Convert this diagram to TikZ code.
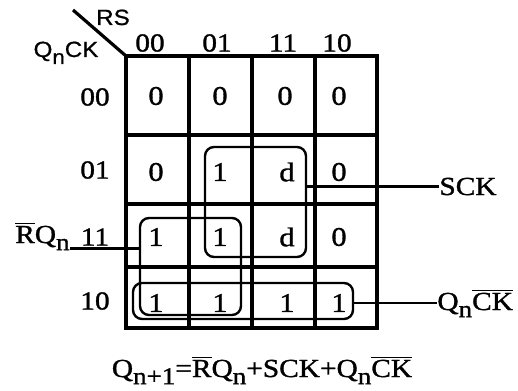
\documentclass[tikz,border=0pt]{standalone}
\usepackage{fontspec}
\setmainfont{Liberation Serif}[FakeStretch=1.13, FakeBold=1.2]
\setsansfont{Liberation Sans}[FakeStretch=1.1, FakeBold=0.8]
\usetikzlibrary{fit}

\newcommand\lsub[1]{\raisebox{-0.6ex}{\scalebox{0.92}{#1}}}
\newcommand\lbar[1]{$\overline{\mbox{#1}}$}

\begin{document}
\begin{tikzpicture}[
  x=0.5pt, y=-0.5pt,
  gridline/.style={line width=1.6pt},
  cell/.style={font=\fontsize{13.5}{15}\selectfont, inner sep=0pt},
  head/.style={font=\fontsize{13}{15}\selectfont, inner sep=0pt},
  sans/.style={font=\sffamily\fontsize{11}{13}\selectfont, inner sep=0pt},
  group/.style={draw, line width=1.2pt, rounded corners=4.5pt, inner sep=0pt},
  tag/.style={font=\fontsize{13}{15}\selectfont, inner sep=0pt},
  wire/.style={line width=1.2pt}
]
  \useasboundingbox (0,0) rectangle (518,390);

  % Map grid
  \draw[gridline] (126,56) rectangle (377,328);
  \foreach \gx in {189,252,315}
    \draw[gridline] (\gx,56) -- (\gx,328);
  \foreach \gy in {135,204,267}
    \draw[gridline] (126,\gy) -- (377,\gy);
  \draw[gridline] (73,10) -- (126,56);

  % Variable names in the corner
  \node[sans, anchor=base] (rs) at (113,25) {RS};
  \node[sans, anchor=base] (qnck) at (66,57) {Q\lsub{n}CK};

  % Column and row headings
  \foreach \lab/\cx in {00/150,01/217,11/283,10/337}
    \node[head] (col-\lab) at (\cx,43) {\lab};
  \foreach \lab/\ry in {00/97,01/170,11/237,10/301}
    \node[head] (row-\lab) at (95,\ry) {\lab};

  % Cell values
  \foreach \v/\cx [count=\j] in {0/156,0/220,0/285,0/339}
    \node[cell] (m-1-\j) at (\cx,96) {\v};
  \foreach \v/\cx [count=\j] in {0/156,1/220,d/287,0/339}
    \node[cell] (m-2-\j) at (\cx,172) {\v};
  \foreach \v/\cx [count=\j] in {1/156,1/220,d/287,0/339}
    \node[cell] (m-3-\j) at (\cx,237) {\v};
  \foreach \v/\cx [count=\j] in {1/156,1/220,1/287,1/339}
    \node[cell] (m-4-\j) at (\cx,303) {\v};

  % Groups
  \node[group, fit={(205,147) (306,257)}] (sck) {};
  \node[group, fit={(140,218) (241,315)}] (rq) {};
  \node[group, fit={(133,283) (353,319)}] (qck) {};

  % Group terms
  \node[tag, anchor=base west] (sck-lab) at (439,195) {SCK};
  \node[tag, anchor=base west] (qck-lab) at (437,310) {Q\lsub{n}\lbar{CK}};
  \node[tag, anchor=base east] (rq-lab) at (70,243) {\lbar{R}Q\lsub{n}};

  \draw[wire] (sck-lab.west) -- (sck-lab.west -| sck.east);
  \draw[wire] (qck-lab.west) -- (qck-lab.west -| qck.east);
  \draw[wire] ([yshift=1pt]rq-lab.south east) -- ([yshift=1pt]rq-lab.south east -| rq.west);

  % Result
  \node[tag, anchor=base] (eq) at (262,377)
    {Q\lsub{n+1}=\lbar{R}Q\lsub{n}+SCK+Q\lsub{n}\lbar{CK}};

\end{tikzpicture}
\end{document}
